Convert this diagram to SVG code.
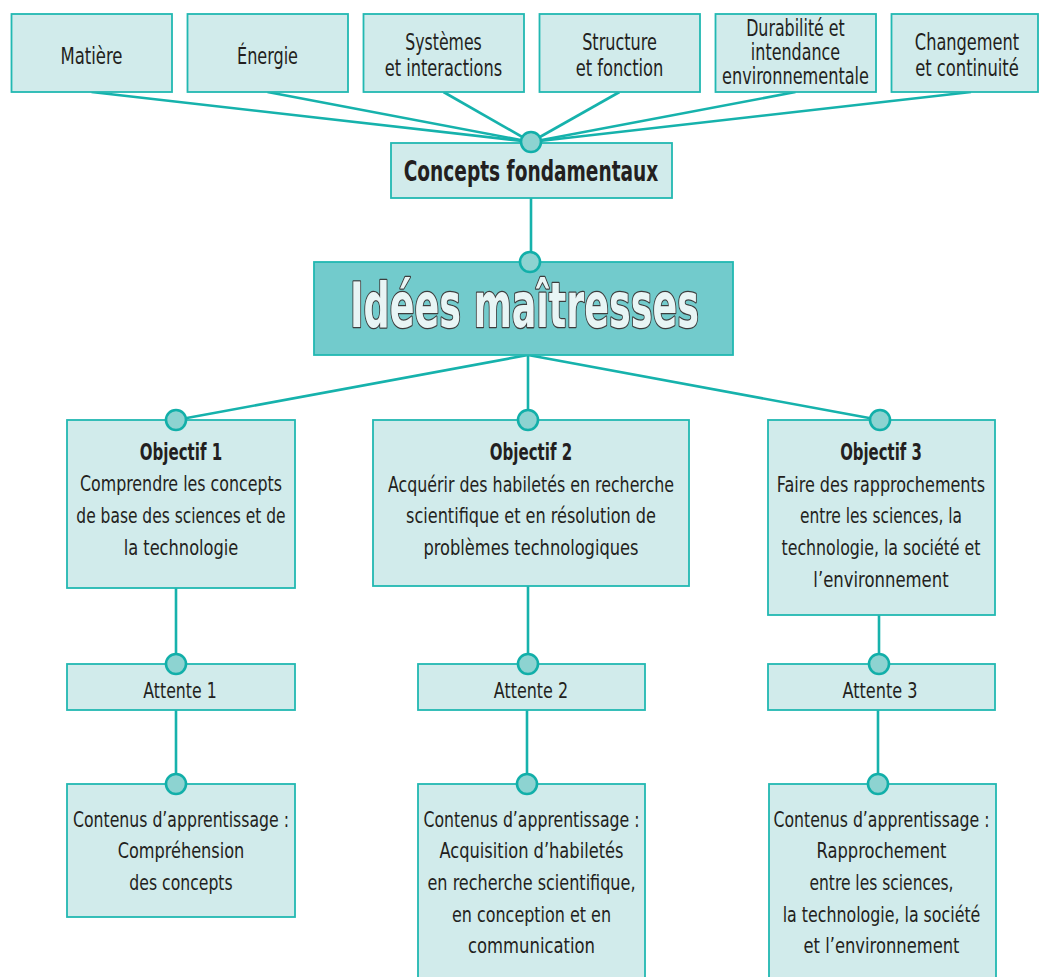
<svg xmlns="http://www.w3.org/2000/svg" width="1039" height="977" viewBox="0 0 1039 977">
<style>
.box{fill:#d1ebeb;stroke:#22b8b2;stroke-width:1.8}
.main{fill:#72cbcc;stroke:#22b8b2;stroke-width:1.8}
.dot{fill:#8dd3d1;stroke:#12afa9;stroke-width:2.6}
.ln{stroke:#16b2ac;stroke-width:2.6;fill:none}
text{font-family:"Liberation Sans Narrow","DejaVu Sans Condensed","Liberation Sans",sans-serif;fill:#231f20;text-anchor:middle}
.t{font-size:23.5px}
.t3{font-size:22.5px}
.b{font-size:22px}
.bb{font-size:22.5px;font-weight:bold}
.cf{font-size:29px;font-weight:bold}
.title{font-size:62px;font-weight:bold;fill:#e8f5f5;stroke:#3d3d3d;stroke-width:2.6;paint-order:stroke;stroke-linejoin:round}
</style>
<rect width="1039" height="977" fill="#ffffff"/>
<g id="connectors">
<line class="ln" x1="91.5" y1="92" x2="531" y2="142"/>
<line class="ln" x1="267.5" y1="92" x2="531" y2="142"/>
<line class="ln" x1="443.5" y1="92" x2="531" y2="142"/>
<line class="ln" x1="619.5" y1="92" x2="531" y2="142"/>
<line class="ln" x1="795.5" y1="92" x2="531" y2="142"/>
<line class="ln" x1="971" y1="92" x2="531" y2="142"/>
<line class="ln" x1="531" y1="198" x2="531" y2="262"/>
<line class="ln" x1="528" y1="355" x2="176" y2="420"/>
<line class="ln" x1="528" y1="355" x2="528" y2="420"/>
<line class="ln" x1="528" y1="355" x2="880" y2="420"/>
<line class="ln" x1="176" y1="588" x2="176" y2="664"/>
<line class="ln" x1="528" y1="586" x2="528" y2="664"/>
<line class="ln" x1="879" y1="615" x2="879" y2="664"/>
<line class="ln" x1="176" y1="710" x2="176" y2="784"/>
<line class="ln" x1="527" y1="710" x2="527" y2="784"/>
<line class="ln" x1="878" y1="710" x2="878" y2="784"/>
</g>
<g id="matiere">
<rect class="box" x="11.5" y="14" width="160.5" height="78"/>
<text class="t" x="91.5" y="64" textLength="62" lengthAdjust="spacingAndGlyphs">Matière</text>
</g>
<g id="energie">
<rect class="box" x="187.5" y="14" width="160.5" height="78"/>
<text class="t" x="267.5" y="64" textLength="61" lengthAdjust="spacingAndGlyphs">Énergie</text>
</g>
<g id="systemes">
<rect class="box" x="363.5" y="14" width="160.5" height="78"/>
<text class="t" x="443.5" y="50" textLength="76.5" lengthAdjust="spacingAndGlyphs">Systèmes</text>
<text class="t" x="443.5" y="76" textLength="117.4" lengthAdjust="spacingAndGlyphs">et interactions</text>
</g>
<g id="structure">
<rect class="box" x="539.5" y="14" width="160.5" height="78"/>
<text class="t" x="619.5" y="50" textLength="74.7" lengthAdjust="spacingAndGlyphs">Structure</text>
<text class="t" x="619.5" y="76" textLength="87.7" lengthAdjust="spacingAndGlyphs">et fonction</text>
</g>
<g id="durabilite">
<rect class="box" x="715.5" y="14" width="160.5" height="78"/>
<text class="t3" x="795.5" y="36" textLength="98.7" lengthAdjust="spacingAndGlyphs">Durabilité et</text>
<text class="t3" x="795.5" y="60" textLength="89.3" lengthAdjust="spacingAndGlyphs">intendance</text>
<text class="t3" x="795.5" y="84" textLength="147" lengthAdjust="spacingAndGlyphs">environnementale</text>
</g>
<g id="changement">
<rect class="box" x="891.5" y="14" width="146.5" height="78"/>
<text class="t" x="967" y="50" textLength="104.3" lengthAdjust="spacingAndGlyphs">Changement</text>
<text class="t" x="967" y="76" textLength="103.7" lengthAdjust="spacingAndGlyphs">et continuité</text>
</g>
<g id="concepts">
<rect class="box" x="391" y="143" width="281" height="55"/>
<text class="cf" x="531" y="181" textLength="254.7" lengthAdjust="spacingAndGlyphs">Concepts fondamentaux</text>
<circle class="dot" cx="531" cy="142" r="10"/>
</g>
<g id="idees">
<rect class="main" x="314" y="262" width="419" height="93"/>
<text class="title" x="524.5" y="327" textLength="349" lengthAdjust="spacingAndGlyphs">Idées maîtresses</text>
<circle class="dot" cx="530" cy="262" r="10"/>
</g>
<g id="objectif1">
<rect class="box" x="67" y="420" width="228" height="168"/>
<text class="bb" x="181" y="460" textLength="82.3" lengthAdjust="spacingAndGlyphs">Objectif 1</text>
<text class="b" x="181" y="491" textLength="202" lengthAdjust="spacingAndGlyphs">Comprendre les concepts</text>
<text class="b" x="181" y="523" textLength="209.3" lengthAdjust="spacingAndGlyphs">de base des sciences et de</text>
<text class="b" x="181" y="555" textLength="114.7" lengthAdjust="spacingAndGlyphs">la technologie</text>
<circle class="dot" cx="176" cy="420" r="10"/>
</g>
<g id="objectif2">
<rect class="box" x="373" y="420" width="316" height="166"/>
<text class="bb" x="531" y="460" textLength="82.3" lengthAdjust="spacingAndGlyphs">Objectif 2</text>
<text class="b" x="531" y="492" textLength="286" lengthAdjust="spacingAndGlyphs">Acquérir des habiletés en recherche</text>
<text class="b" x="531" y="523" textLength="250" lengthAdjust="spacingAndGlyphs">scientifique et en résolution de</text>
<text class="b" x="531" y="555" textLength="215" lengthAdjust="spacingAndGlyphs">problèmes technologiques</text>
<circle class="dot" cx="528" cy="420" r="10"/>
</g>
<g id="objectif3">
<rect class="box" x="768" y="420" width="227" height="195"/>
<text class="bb" x="881" y="460" textLength="81.7" lengthAdjust="spacingAndGlyphs">Objectif 3</text>
<text class="b" x="881" y="492" textLength="208.3" lengthAdjust="spacingAndGlyphs">Faire des rapprochements</text>
<text class="b" x="881" y="523" textLength="162" lengthAdjust="spacingAndGlyphs">entre les sciences, la</text>
<text class="b" x="881" y="555" textLength="199" lengthAdjust="spacingAndGlyphs">technologie, la société et</text>
<text class="b" x="881" y="587" textLength="135.3" lengthAdjust="spacingAndGlyphs">l’environnement</text>
<circle class="dot" cx="880" cy="420" r="10"/>
</g>
<g id="attente1">
<rect class="box" x="67" y="664" width="228" height="46"/>
<text class="b" x="180" y="698" textLength="73.3" lengthAdjust="spacingAndGlyphs">Attente 1</text>
<circle class="dot" cx="176" cy="664" r="10"/>
</g>
<g id="attente2">
<rect class="box" x="418" y="664" width="227" height="46"/>
<text class="b" x="531" y="698" textLength="74.3" lengthAdjust="spacingAndGlyphs">Attente 2</text>
<circle class="dot" cx="528" cy="664" r="10"/>
</g>
<g id="attente3">
<rect class="box" x="768" y="664" width="227" height="46"/>
<text class="b" x="880" y="698" textLength="75" lengthAdjust="spacingAndGlyphs">Attente 3</text>
<circle class="dot" cx="879" cy="664" r="10"/>
</g>
<g id="contenus1">
<rect class="box" x="67" y="784" width="228" height="133"/>
<text class="b" x="181" y="827" textLength="216" lengthAdjust="spacingAndGlyphs">Contenus d’apprentissage :</text>
<text class="b" x="181" y="858" textLength="126.7" lengthAdjust="spacingAndGlyphs">Compréhension</text>
<text class="b" x="181" y="890" textLength="103.3" lengthAdjust="spacingAndGlyphs">des concepts</text>
<circle class="dot" cx="176" cy="784" r="10"/>
</g>
<g id="contenus2">
<rect class="box" x="418" y="784" width="227" height="200"/>
<text class="b" x="531.5" y="827" textLength="216" lengthAdjust="spacingAndGlyphs">Contenus d’apprentissage :</text>
<text class="b" x="531.5" y="858" textLength="184" lengthAdjust="spacingAndGlyphs">Acquisition d’habiletés</text>
<text class="b" x="531.5" y="890" textLength="208" lengthAdjust="spacingAndGlyphs">en recherche scientifique,</text>
<text class="b" x="531.5" y="922" textLength="159" lengthAdjust="spacingAndGlyphs">en conception et en</text>
<text class="b" x="531.5" y="953" textLength="127" lengthAdjust="spacingAndGlyphs">communication</text>
<circle class="dot" cx="527" cy="784" r="10"/>
</g>
<g id="contenus3">
<rect class="box" x="769" y="784" width="227" height="200"/>
<text class="b" x="881.5" y="827" textLength="216" lengthAdjust="spacingAndGlyphs">Contenus d’apprentissage :</text>
<text class="b" x="881.5" y="858" textLength="130" lengthAdjust="spacingAndGlyphs">Rapprochement</text>
<text class="b" x="881.5" y="890" textLength="144" lengthAdjust="spacingAndGlyphs">entre les sciences,</text>
<text class="b" x="881.5" y="922" textLength="197.7" lengthAdjust="spacingAndGlyphs">la technologie, la société</text>
<text class="b" x="881.5" y="953" textLength="156" lengthAdjust="spacingAndGlyphs">et l’environnement</text>
<circle class="dot" cx="878" cy="784" r="10"/>
</g>
</svg>
